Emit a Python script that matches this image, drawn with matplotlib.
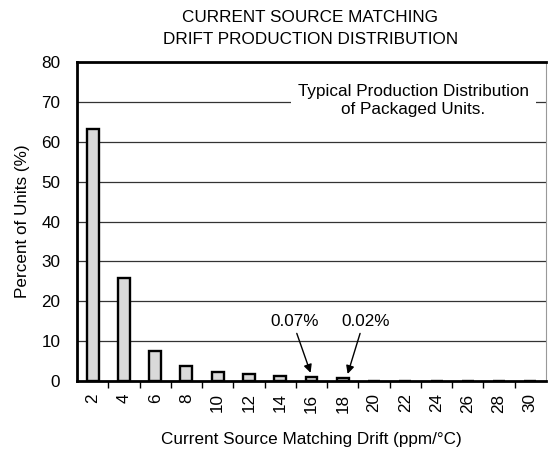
import matplotlib
matplotlib.use("Agg")
import matplotlib.pyplot as plt
import numpy as np

plt.rcParams['font.family'] = ['Liberation Sans', 'DejaVu Sans']

categories = ['2', '4', '6', '8', '10', '12', '14', '16', '18', '20', '22', '24', '26', '28', '30']
percent = [63.2, 25.9, 7.6, 3.8, 2.3, 1.7, 1.2, 1.1, 0.8, 0, 0, 0, 0, 0, 0]
y_ticks = [0, 10, 20, 30, 40, 50, 60, 70, 80]

FS = 12.3

fig = plt.figure(figsize=(5.48, 4.51), dpi=100)
ax = fig.add_axes([77/548, 70/451, 469/548, 319/451])

x = np.arange(len(categories))
ax.bar(x, percent, width=0.38, color='#d9d9d9', edgecolor='black', linewidth=1.7, zorder=3)

ax.set_xlim(-0.5, len(categories) - 0.5)
ax.set_ylim(0, 80)
ax.set_yticks(y_ticks)
ax.set_xticks(x)
ax.set_xticklabels(categories, rotation=90, fontsize=FS)
ax.set_xticks(np.arange(0.5, len(categories) - 1, 1.0), minor=True)
ax.tick_params(axis='x', which='major', length=0, pad=9)
ax.tick_params(axis='x', which='minor', length=5, width=1, direction='out')
ax.tick_params(axis='y', length=0, labelsize=FS, pad=12)

for v in y_ticks[1:-1]:
    ax.axhline(v, color='#333333', linewidth=0.9, zorder=1)

for side in ['left', 'bottom', 'top']:
    ax.spines[side].set_linewidth(2)
ax.spines['right'].set_linewidth(0.8)
ax.spines['right'].set_color('#999999')

ax.set_ylabel('Percent of Units (%)', fontsize=FS, labelpad=8)
ax.set_xlabel('Current Source Matching Drift (ppm/°C)', fontsize=FS, labelpad=14)
fig.text(0.566, 0.978, 'CURRENT SOURCE MATCHING\nDRIFT PRODUCTION DISTRIBUTION',
         ha='center', va='top', fontsize=FS, linespacing=1.55)

ax.text(10.25, 70.3, 'Typical Production Distribution\nof Packaged Units.', ha='center', va='center',
        fontsize=FS, linespacing=1.25, zorder=4,
        bbox=dict(facecolor='white', edgecolor='none', pad=5))

notes = [(7, '0.07%', 6.47, 6.5, 0.0), (8, '0.02%', 8.74, 8.58, 0.13)]
for idx, label, tx, ax0, dx in notes:
    ax.text(tx, 15.0, label, ha='center', va='center', fontsize=FS, zorder=5)
    ax.annotate('', xy=(idx + dx, percent[idx] + 0.3),
                xytext=(ax0, 12.6),
                arrowprops=dict(arrowstyle='-|>', color='black', lw=1, mutation_scale=12),
                zorder=5)

fig.savefig('out.png', dpi=100)
